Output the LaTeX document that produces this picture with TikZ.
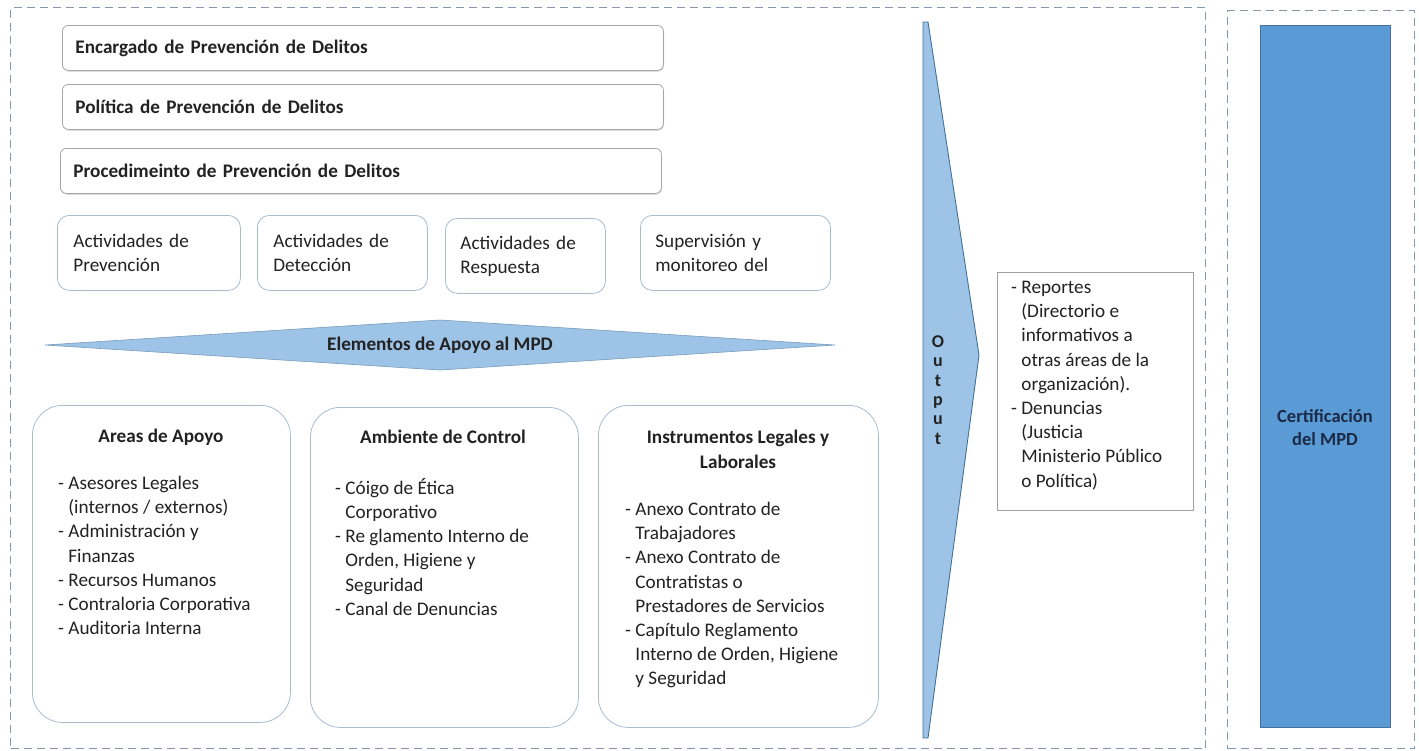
\documentclass[tikz,border=0pt]{standalone}
\usepackage{fontspec}
\setmainfont{Carlito}
\usetikzlibrary{shadows}
\definecolor{dashc}{HTML}{8496B0}
\definecolor{boxb}{HTML}{A9BCD0}
\definecolor{tboxb}{HTML}{A6A6A6}
\definecolor{lblue}{HTML}{9DC3E6}
\definecolor{mblue}{HTML}{5B9BD5}
\definecolor{dblue}{HTML}{41719C}
\definecolor{navy}{HTML}{1B2A47}
\definecolor{txt}{HTML}{222222}
\newcommand\myind{\hphantom{- }}
\begin{document}
\begin{tikzpicture}[x=1pt,y=-1pt,
  frame/.style={draw=dashc, line width=1.1pt, dash pattern=on 8pt off 5pt, anchor=north west, inner sep=0pt},
  tbox/.style={draw=tboxb, line width=0.8pt, rounded corners=6pt, fill=white, anchor=north west,
     minimum width=601pt, minimum height=45pt, text width=575pt, inner xsep=13pt, align=left,
     font=\fontsize{19.2}{22}\selectfont\bfseries, text=txt,
     drop shadow={shadow xshift=0.6pt, shadow yshift=-1.4pt, opacity=0.25, fill=gray}},
  abox/.style={draw=boxb, line width=0.8pt, rounded corners=12pt, anchor=north west,
     minimum height=75pt, inner xsep=16pt, align=left, font=\fontsize{19.2}{24}\selectfont, text=txt},
  bbox/.style={draw=boxb, line width=0.8pt, rounded corners=30pt, anchor=north west, inner sep=0pt},
  btitle/.style={font=\fontsize{19.2}{25}\selectfont\bfseries, align=center, text=txt, inner sep=0pt},
  blist/.style={font=\fontsize{19.2}{24.2}\selectfont, align=left, text=txt, inner sep=0pt, anchor=north west},
]
\useasboundingbox (0,0) rectangle (1419,750);
\fill[white] (0,0) rectangle (1419,750);

% frames
\node[frame, minimum width=1195pt, minimum height=741pt] (f1) at (10,7) {};
\node[frame, minimum width=187pt, minimum height=738pt] (f2) at (1227,10) {};

% top title boxes
\node[tbox] (enc) at (62,25) {Encargado de Prevención de Delitos};
\node[tbox] (pol) at (62,84) {Política de Prevención de Delitos};
\node[tbox] (pro) at (60,148) {Procedimeinto de Prevención de Delitos};

% activity boxes
\node[abox, minimum width=183pt, text width=151pt] (a1) at (57,215) {Actividades de\\Prevención};
\node[abox, minimum width=170pt, text width=138pt] (a2) at (257,215) {Actividades de\\Detección};
\node[abox, minimum width=160pt, text width=130pt, inner xsep=15pt] (a3) at (445,218) {Actividades de\\Respuesta};
\node[abox, minimum width=190pt, text width=160pt, inner xsep=15pt] (a4) at (640,215) {Supervisión y\\monitoreo del};

% diamond arrow
\coordinate (dl) at (45,345);
\coordinate (dt) at (440,320);
\coordinate (dr) at (835,345);
\coordinate (db) at (440,370);
\draw[fill=lblue, draw=dblue!70, line width=0.6pt] (dl) -- (dt) -- (dr) -- (db) -- cycle;
\node[btitle] (elem) at (440,345) {Elementos de Apoyo al MPD};

% bottom boxes
\node[bbox, minimum width=258pt, minimum height=317pt] (b1) at (32,405) {};
\node[bbox, minimum width=268pt, minimum height=320pt] (b2) at (310,407) {};
\node[bbox, minimum width=280pt, minimum height=322pt] (b3) at (598,405) {};

\node[btitle] (t1) at (161,437) {Areas de Apoyo};
\node[blist] (l1) at (58,476) {- Asesores Legales\\\myind(internos / externos)\\- Administración y\\\myind Finanzas\\- Recursos Humanos\\- Contraloria Corporativa\\- Auditoria Interna};

\node[btitle] (t2) at (443,437) {Ambiente de Control};
\node[blist] (l2) at (335,478) {- Cóigo de Ética\\\myind Corporativo\\- Re glamento Interno de\\\myind Orden, Higiene y\\\myind Seguridad\\- Canal de Denuncias};

\node[btitle] (t3) at (738,449) {Instrumentos Legales y\\Laborales};
\node[blist] (l3) at (625,502) {- Anexo Contrato de\\\myind Trabajadores\\- Anexo Contrato de\\\myind Contratistas o\\\myind Prestadores de Servicios\\- Capítulo Reglamento\\\myind Interno de Orden, Higiene\\\myind y Seguridad};

% output arrow
\coordinate (o1) at (923,22);
\coordinate (o2) at (928,22);
\coordinate (o3) at (979,355);
\coordinate (o4) at (928,738);
\coordinate (o5) at (923,738);
\draw[fill=lblue, draw=dblue, line width=0.9pt] (o1) -- (o2) -- (o3) -- (o4) -- (o5) -- cycle;
\node[font=\fontsize{18}{19.4}\selectfont\bfseries, align=center, text=txt, inner sep=0pt] (out) at (938,390) {O\\u\\t\\p\\u\\t};

% reports box
\node[draw=gray!75, line width=0.8pt, anchor=north west, minimum width=196pt, minimum height=238pt, inner sep=0pt] (rep) at (997,272) {};
\node[blist] (rept) at (1011,281) {- Reportes\\\myind(Directorio e\\\myind informativos a\\\myind otras áreas de la\\\myind organización).\\- Denuncias\\\myind(Justicia\\\myind Ministerio Público\\\myind o Política)};

% certification
\node[draw=dblue, fill=mblue, line width=0.8pt, anchor=north west, minimum width=130pt, minimum height=702pt, inner sep=0pt] (cert) at (1260,25) {};
\node[font=\fontsize{18.5}{23}\selectfont\bfseries, text=navy, align=center, inner sep=0pt] (certt) at (1325,428) {Certificación\\del MPD};
\end{tikzpicture}
\end{document}
